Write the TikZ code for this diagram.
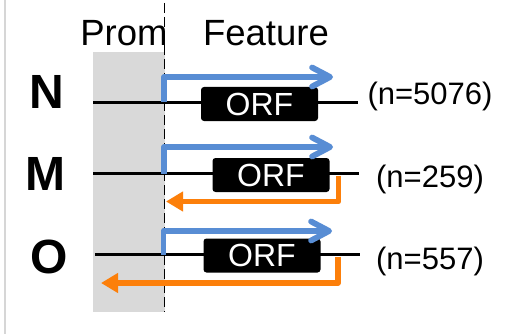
\documentclass[tikz,border=0pt]{standalone}
\usepackage{fontspec}
\setmainfont{Liberation Sans}
\usetikzlibrary{arrows.meta}
\definecolor{promgray}{RGB}{217,217,217}
\definecolor{borderg}{RGB}{214,214,214}
\definecolor{fwdblue}{RGB}{88,141,212}
\definecolor{revorange}{RGB}{252,127,10}
\tikzset{
  rowlabel/.style={font=\fontsize{48}{48}\selectfont\bfseries, inner sep=0pt},
  headtext/.style={font=\fontsize{36.5}{36.5}\selectfont, anchor=base, inner sep=0pt},
  countlabel/.style={font=\fontsize{31}{31}\selectfont, inner sep=0pt},
  orfbox/.style={fill=black, text=white, rounded corners=3pt, minimum width=117pt, minimum height=34pt, inner sep=0pt, font=\fontsize{32}{32}\selectfont},
  geneline/.style={line width=3.6pt},
  fwdarrow/.style={draw=fwdblue, line width=5.8pt, line join=round, -{Straight Barb[length=18pt,width=19pt,round]}},
  revarrow/.style={draw=revorange, line width=5.8pt, line join=round, -{Triangle[length=17pt,width=19pt]}},
}
\begin{document}
\begin{tikzpicture}[x=1pt,y=-1pt]
\useasboundingbox (0,0) rectangle (508,334);
\fill[white] (0,0) rectangle (508,334);
% left border
\draw[borderg, line width=2.5pt] (5,0) -- (5,334);
% promoter region
\fill[promgray] (93,52) rectangle (165,311.5);
\coordinate (dtop) at (164.5,3);
\coordinate (dbot) at (164.5,312);
\draw[line width=1.9pt, dash pattern=on 10pt off 4pt] (dtop) -- (dbot);
% headers
\node[headtext] (prom) at (124,46) {Prom};
\node[headtext] (feat) at (266,46) {Feature};

% Row N
\node[rowlabel] (lN) at (47,92) {N};
\coordinate (Ns) at (93,102.5);
\coordinate (Ne) at (358,102.5);
\draw[geneline] (Ns) -- (Ne);
\node[orfbox] (orfN) at (259.5,104) {ORF};
\coordinate (Nb0) at (164,102.5);
\coordinate (Nb1) at (164,77);
\coordinate (Nb2) at (333,77);
\draw[fwdarrow] (Nb0) -- (Nb1) -- (Nb2);
\node[countlabel] (cN) at (430,96) {(n=5076)};

% Row M
\node[rowlabel] (lM) at (45,174) {M};
\coordinate (Ms) at (93,173.5);
\coordinate (Me) at (359,173.5);
\draw[geneline] (Ms) -- (Me);
\node[orfbox] (orfM) at (271,175) {ORF};
\coordinate (Mb0) at (164,173.5);
\coordinate (Mb1) at (164,147);
\coordinate (Mb2) at (333,147);
\draw[fwdarrow] (Mb0) -- (Mb1) -- (Mb2);
\coordinate (Mo0) at (338.5,175.5);
\coordinate (Mo1) at (338.5,201.5);
\coordinate (Mo2) at (166,201.5);
\draw[revarrow] (Mo0) -- (Mo1) -- (Mo2);
\node[countlabel] (cM) at (430,179) {(n=259)};

% Row O
\node[rowlabel] (lO) at (49,257) {O};
\coordinate (Os) at (95,254.5);
\coordinate (Oe) at (360,254.5);
\draw[geneline] (Os) -- (Oe);
\node[orfbox] (orfO) at (262,255.5) {ORF};
\coordinate (Ob0) at (163.5,254.5);
\coordinate (Ob1) at (163.5,231);
\coordinate (Ob2) at (332,231);
\draw[fwdarrow] (Ob0) -- (Ob1) -- (Ob2);
\coordinate (Oo0) at (338,256.5);
\coordinate (Oo1) at (338,283);
\coordinate (Oo2) at (101,283);
\draw[revarrow] (Oo0) -- (Oo1) -- (Oo2);
\node[countlabel] (cO) at (430,261) {(n=557)};
\end{tikzpicture}
\end{document}
